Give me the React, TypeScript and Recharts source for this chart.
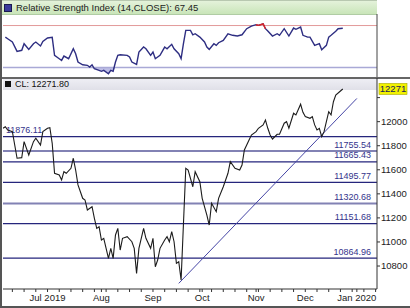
import React from "react";
import { Area, ComposedChart, Line, LineChart, ReferenceLine, XAxis, YAxis } from "recharts";

// session index: 0 = 1 Jul 2019, one step per weekday
const priceSessions = [
  -19, -18, -17, -15, -13, -11, -10, -8, -6, -5,
  -3, -2, 0, 1, 2, 3, 5, 6, 7, 8,
  10, 11, 12, 13, 15, 16, 17, 19, 20, 21,
  22, 23, 24, 25, 26, 27, 28, 29, 30, 31,
  32, 34, 36, 37, 38, 39, 41, 42, 44, 45,
  46, 47, 48, 50, 51, 52, 53, 54, 55, 56,
  57, 59, 60, 62, 63, 65, 66, 68, 69, 70,
  72, 73, 75, 77, 78, 80, 82, 83, 84, 86,
  87, 89, 90, 92, 93, 94, 95, 96, 98, 99,
  101, 102, 103, 105, 106, 108, 109, 110, 112, 113,
  114, 115, 116, 117, 118, 119, 120, 121, 122, 123,
  125, 126,
];
const priceValues = [
  11945, 11958, 11931, 11917, 11696, 11701, 11834, 11723, 11834, 11862,
  11806, 11917, 11945, 11950, 11820, 11571, 11557, 11515, 11584, 11571,
  11612, 11696, 11598, 11474, 11363, 11349, 11266, 11293, 11197, 11113,
  11127, 11016, 11030, 10947, 10864, 10947, 10864, 11058, 11113, 10933,
  11030, 11044, 11002, 10947, 10739, 10947, 11113, 11030, 10947, 11030,
  10794, 10850, 10947, 11016, 11044, 11002, 11085, 11002, 10822, 10836,
  10684, 11612, 11598, 11459, 11584, 11501, 11363, 11224, 11141, 11321,
  11252, 11363, 11459, 11571, 11667, 11612, 11598, 11640, 11765, 11848,
  11889, 11917, 11945, 11973, 12014, 11945, 11889, 11856, 11895, 11895,
  11987, 12000, 11945, 12070, 12056, 12145, 12078, 12042, 12028, 12042,
  11973, 11931, 11945, 11875, 11917, 12000, 12083, 12056, 12166, 12222,
  12255, 12271.8,
];

const rsiSessions = [
  -18, -17, -15, -13, -11, -10, -8, -6, -5, -3,
  -2, 0, 2, 3, 5, 6, 7, 9, 11, 12,
  13, 15, 17, 18, 19, 20, 22, 23, 24, 26,
  27, 28, 29, 30, 31, 34, 35, 36, 38, 39,
  41, 42, 44, 45, 46, 48, 50, 51, 53, 54,
  56, 57, 58, 59, 61, 62, 63, 65, 67, 68,
  69, 71, 72, 73, 75, 77, 79, 81, 83, 85,
  87, 89, 90, 92, 93, 94, 96, 98, 99, 101,
  103, 105, 106, 108, 109, 111, 112, 114, 116, 117,
  119, 120, 121, 123, 124, 126,
];
const rsiValues = [
  59.0, 57.4, 54.3, 45.4, 46.4, 52.7, 47.3, 52.7, 54.3, 50.5,
  54.9, 58.1, 58.8, 41.6, 38.4, 36.8, 40.9, 38.4, 47.9, 43.1,
  35.2, 32.6, 32.1, 30.5, 32.6, 28.8, 27.3, 26.4, 27.3, 24.1,
  27.3, 26.4, 35.2, 41.6, 42.2, 41.6, 40.0, 35.2, 33.0, 44.7,
  49.5, 47.9, 41.6, 44.7, 38.4, 41.6, 49.5, 47.9, 52.1, 47.9,
  43.1, 38.4, 52.7, 65.4, 65.4, 61.2, 62.2, 59.0, 54.3, 49.5,
  47.3, 52.7, 51.1, 53.6, 55.9, 62.2, 60.7, 60.0, 61.2, 67.0,
  69.5, 70.8, 70.2, 71.7, 67.0, 64.8, 60.0, 62.2, 60.7, 67.0,
  60.0, 67.6, 66.4, 68.6, 60.7, 59.0, 59.0, 51.1, 52.7, 46.9,
  51.1, 59.0, 60.7, 64.5, 67.0, 67.45,
];

const levels = [11876.11, 11755.54, 11665.43, 11495.77, 11320.68, 11151.68, 10864.96];
const heavyLevels = [11755.54, 11320.68];
const trendSessions = [56, 132];
const trendValues = [10656, 12193];

const monthTicks = [0, 23, 45, 66, 89, 110, 132];
const monthLabels = ["Jul 2019", "Aug", "Sep", "Oct", "Nov", "Dec", "Jan 2020"];
const weekTicks = [-15, -10, -5, 5, 10, 15, 20, 25, 30, 35, 40, 50, 55, 60, 65, 70, 75, 80, 85, 90, 95, 100, 105, 115, 120, 125, 130, 135, 140];
const priceTicks = [10800, 11000, 11200, 11400, 11600, 11800, 12000, 12200];
const rsiTicks = [40, 60, 80];
const lastClose = 12271.8;
const lastRsi = 67.45;

const xDomain = [-19, 140.6];
const font = "'Liberation Sans', Arial, sans-serif";

const priceData = priceSessions.map((s, i) => ({ s, close: priceValues[i] }));
const rsiData = rsiSessions.map((s, i) => ({
  s,
  rsi: rsiValues[i],
  low: Math.min(rsiValues[i], 30),
  hot: rsiValues[i] >= 70 || (i > 0 && rsiValues[i - 1] >= 70) ? rsiValues[i] : null,
}));
const xTicks = [...monthTicks, ...weekTicks].sort((a, b) => a - b);

function levelLabel(value: number, left: boolean) {
  return (props: any) => {
    const vb = props.viewBox;
    const x = left ? vb.x + 3 : vb.x + vb.width - 6;
    return (
      <text x={x} y={vb.y - 3.5} textAnchor={left ? "start" : "end"} fontSize={9} fill="#34348c">
        {value.toFixed(2)}
      </text>
    );
  };
}

function lastLabel(props: any) {
  const vb = props.viewBox;
  const x = vb.x + vb.width + 2;
  return (
    <g>
      <rect x={x} y={vb.y - 5.5} width={28} height={11} fill="#f2f200" stroke="#a8a800" strokeWidth={0.6} />
      <text x={x + 14} y={vb.y + 3.5} textAnchor="middle" fontSize={9.5} fill="#20205a">
        {Math.floor(lastClose)}
      </text>
    </g>
  );
}

export default function App() {
  return (
    <div style={{ position: "absolute", left: 0, top: 0, width: 410, height: 308, background: "#fff", overflow: "hidden", fontFamily: font }}>
      {/* RSI header */}
      <div style={{ position: "absolute", left: 2, top: 0, width: 375, height: 13, background: "linear-gradient(#e4f2da, #c9e5b9)", borderTop: "1px solid #b8c8b0", borderBottom: "1px solid #b0cca4", fontSize: 9.5, lineHeight: "13px", color: "#222" }}>
        <span style={{ display: "inline-block", width: 6, height: 6, background: "#3a3a9c", border: "1px solid #1a1a50", margin: "0 4px 0 2px", verticalAlign: "-1px" }} />
        Relative Strength Index (14,CLOSE): {lastRsi.toFixed(2)}
      </div>
      <div style={{ position: "absolute", left: 0, top: 0 }}>
        <ComposedChart width={410} height={79} data={rsiData} margin={{ top: 14, right: 0, bottom: 1, left: 3 }}>
          <XAxis type="number" dataKey="s" domain={xDomain} hide allowDataOverflow />
          <YAxis orientation="right" width={33} domain={[20, 81]} ticks={rsiTicks} tick={false} tickSize={3} stroke="#444" allowDataOverflow />
          <ReferenceLine y={70} stroke="#e39a9a" strokeWidth={1} />
          <ReferenceLine y={30} stroke="#a9a9d6" strokeWidth={1.5} />
          <Area type="linear" dataKey="low" baseValue={30} stroke="none" fill="#b7b7e3" fillOpacity={0.9} isAnimationActive={false} />
          <Line type="linear" dataKey="rsi" stroke="#2e2e82" strokeWidth={1.4} dot={false} isAnimationActive={false} />
          <Line type="linear" dataKey="hot" stroke="#e02424" strokeWidth={1.4} dot={false} connectNulls={false} isAnimationActive={false} />
        </ComposedChart>
      </div>
      <div style={{ position: "absolute", left: 0, top: 77, width: 410, height: 1.5, background: "#666" }} />

      {/* price header */}
      <div style={{ position: "absolute", left: 3, top: 79, width: 374, height: 11, background: "linear-gradient(#eeeef4, #e0e0e8)", fontSize: 9, lineHeight: "11px", color: "#111" }}>
        <span style={{ display: "inline-block", width: 6, height: 6, background: "#111", margin: "0 4px 0 2px", verticalAlign: "0px" }} />
        CL: {lastClose.toFixed(2)}
      </div>
      <div style={{ position: "absolute", left: 0, top: 78 }}>
        <LineChart width={410} height={230} data={priceData} margin={{ top: 0, right: 0, bottom: 0, left: 3 }}>
          <XAxis
            type="number"
            dataKey="s"
            domain={xDomain}
            allowDataOverflow
            ticks={xTicks}
            interval={0}
            tickFormatter={(v: number) => {
              const k = monthTicks.indexOf(v);
              return k >= 0 ? monthLabels[k] : "";
            }}
            tickSize={3}
            tickMargin={2}
            height={19}
            stroke="#333"
            tick={{ fontSize: 9.5, fill: "#222" }}
          />
          <YAxis
            orientation="right"
            width={33}
            domain={[10609, 12363]}
            ticks={priceTicks}
            tickFormatter={(v: number) => (v === 12200 ? "" : String(v))}
            tickSize={3}
            tickMargin={1}
            stroke="#333"
            tick={{ fontSize: 9.5, fill: "#222" }}
            allowDataOverflow
          />
          {levels.map((lv, i) => (
            <ReferenceLine
              key={lv}
              y={lv}
              stroke={heavyLevels.includes(lv) ? "#8282b4" : "#25257c"}
              strokeWidth={heavyLevels.includes(lv) ? 2 : 1.2}
              label={levelLabel(lv, i === 0)}
            />
          ))}
          <ReferenceLine
            segment={[
              { x: trendSessions[0], y: trendValues[0] },
              { x: trendSessions[1], y: trendValues[1] },
            ]}
            stroke="#4646a6"
            strokeWidth={1}
          />
          <ReferenceLine y={lastClose} stroke="none" label={lastLabel} />
          <Line type="linear" dataKey="close" stroke="#1c1c1c" strokeWidth={1.1} dot={false} isAnimationActive={false} />
        </LineChart>
      </div>
      <div style={{ position: "absolute", left: 0, top: 0, width: 2, height: 308, background: "#555" }} />
      <div style={{ position: "absolute", left: 0, top: 306, width: 410, height: 2, background: "#555" }} />
    </div>
  );
}
